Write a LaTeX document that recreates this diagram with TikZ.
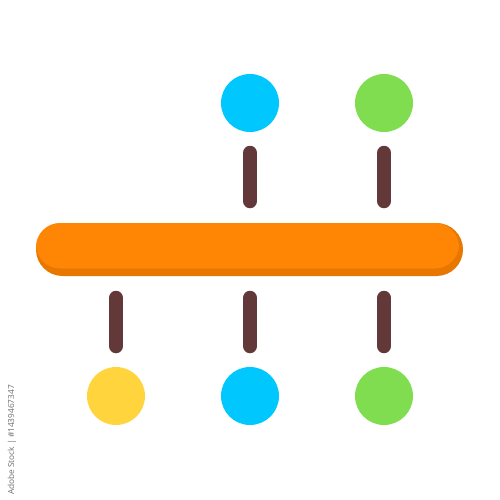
\documentclass[tikz,border=0pt]{standalone}
\usepackage{fontspec}
\setmainfont{Open Sans}
\definecolor{barmain}{HTML}{FF8504}
\definecolor{barshade}{HTML}{E87700}
\definecolor{stick}{HTML}{633838}
\definecolor{cblue}{HTML}{00C8FF}
\definecolor{cgreen}{HTML}{80DD4F}
\definecolor{cyellow}{HTML}{FFD43D}
\definecolor{wm}{HTML}{707070}
\begin{document}
\begin{tikzpicture}[x=1pt,y=-1pt,
  dot/.style={circle,inner sep=0pt,minimum size=58pt},
  stickline/.style={line width=14.5pt,line cap=round,draw=stick}]
\useasboundingbox[fill=white] (0,0) rectangle (500,500);
% bar
\fill[barshade,rounded corners=26.5pt] (36,223) rectangle (463,276);
\fill[barmain,rounded corners=24pt] (36,223) rectangle (459,268.5);
\node[inner sep=0pt,minimum width=427pt,minimum height=53pt] (bar) at (249.5,249.5) {};
% circles
\node[dot,fill=cblue] (tb) at (250,103) {};
\node[dot,fill=cgreen] (tg) at (384,103) {};
\node[dot,fill=cyellow] (by) at (116,396) {};
\node[dot,fill=cblue] (bb) at (250,396) {};
\node[dot,fill=cgreen] (bg) at (384,396) {};
% sticks
\coordinate (s1a) at (250,153); \coordinate (s1b) at (250,201);
\coordinate (s2a) at (384,153); \coordinate (s2b) at (384,201);
\coordinate (s3a) at (116,298); \coordinate (s3b) at (116,346);
\coordinate (s4a) at (250,298); \coordinate (s4b) at (250,346);
\coordinate (s5a) at (384,298); \coordinate (s5b) at (384,346);
\draw[stickline] (s1a) -- (s1b);
\draw[stickline] (s2a) -- (s2b);
\draw[stickline] (s3a) -- (s3b);
\draw[stickline] (s4a) -- (s4b);
\draw[stickline] (s5a) -- (s5b);
% watermark
\node[rotate=90,text=wm,font=\fontsize{8.3}{9}\selectfont,inner sep=0pt] (wmk) at (12,440) {Adobe Stock | \#1439467347};
\end{tikzpicture}
\end{document}
